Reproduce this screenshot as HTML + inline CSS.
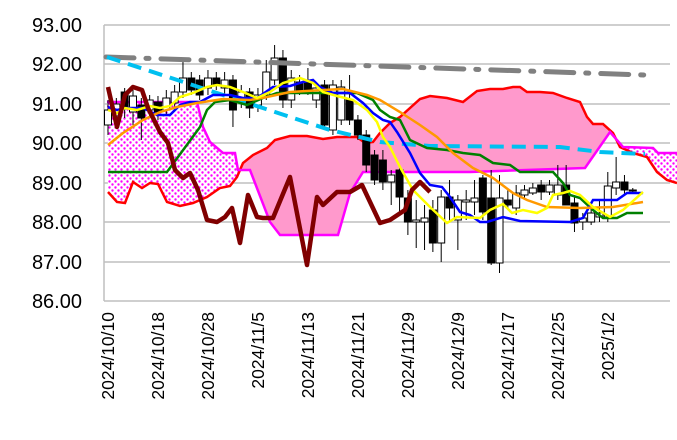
<!DOCTYPE html>
<html><head><meta charset="utf-8"><style>
html,body{margin:0;padding:0;background:#fff;}
svg{display:block;font-family:"Liberation Sans",sans-serif;}
</style></head><body>
<svg id="c" width="677" height="440" xmlns="http://www.w3.org/2000/svg">
<defs>
<pattern id="dots" width="6" height="6" patternUnits="userSpaceOnUse">
<rect width="6" height="6" fill="#fff"/>
<circle cx="1.5" cy="1.5" r="1.2" fill="#f0f"/><circle cx="4.5" cy="4.5" r="1.2" fill="#f0f"/>
</pattern>
<clipPath id="mid"><rect x="240" y="0" width="371" height="300"/></clipPath>
</defs>
<g stroke="#bfbfbf" stroke-width="1.5">
<line x1="104" y1="25" x2="670" y2="25"/><line x1="104" y1="64" x2="670" y2="64"/>
<line x1="104" y1="104" x2="670" y2="104"/><line x1="104" y1="143" x2="670" y2="143"/>
<line x1="104" y1="183" x2="670" y2="183"/><line x1="104" y1="222" x2="670" y2="222"/>
<line x1="104" y1="262" x2="670" y2="262"/><line x1="104" y1="301" x2="670" y2="301"/>
<line x1="104" y1="25" x2="104" y2="301"/>
</g>
<g font-size="20" fill="#000" text-anchor="end">
<text x="82" y="32">93.00</text><text x="82" y="71">92.00</text><text x="82" y="111">91.00</text>
<text x="82" y="150">90.00</text><text x="82" y="190">89.00</text><text x="82" y="229">88.00</text>
<text x="82" y="269">87.00</text><text x="82" y="308">86.00</text>
</g>
<g id="xl" font-size="17.5" fill="#000" text-anchor="end"></g>
<g id="kumo">
<polygon id="k1" fill="url(#dots)" points=""/>
<polygon id="k2" fill="#ff99cc" clip-path="url(#mid)" points=""/>
</g>
<polyline id="spanB" fill="none" stroke="#ff0000" stroke-width="2.5" points="108,192 117,202 125,203 133,182 142,188 150,183 158,184 167,202 180,206 193,203 207,197 220,188 230,186 237,177 243,163 253,155 267,148 275,140 290,136 307,136 323,139 337,137 357,137 365,143 373,142 380,133 390,123 400,117 420,99 430,96 447,98 463,102 477,91 490,89 503,89 513,87 520,87 527,92 540,92 553,93 567,98 580,102 587,117 593,124 603,124 613,133 620,147 633,153 647,157 657,172 667,180 677,183"/>
<polyline id="spanA" fill="none" stroke="#ff00ff" stroke-width="2.5" points="107,102 197,102 203,127 210,142 223,153 235,153 238,170 250,170 270,222 280,235 338,235 350,193 363,172 390,172 470,172 585,168 610,132 623,147 653,148 658,153 677,153"/>
<g id="cand"></g>
<polyline fill="none" stroke="#808080" stroke-width="5" stroke-dasharray="28,12,3,12" stroke-linecap="round" points="106,57 645,75"/>
<polyline fill="none" stroke="#00c0f0" stroke-width="4" stroke-dasharray="14,8" points="107,57 330,130 380,142 430,146 560,147 600,152 645,154"/>
<polyline fill="none" stroke="#008000" stroke-width="2.5" points="108,172 167,172 200,127 207,110 215,102 230,100 247,105 263,98 277,93 357,93 373,100 380,110 390,117 400,120 410,140 427,148 447,150 463,153 480,155 493,163 510,165 520,172 553,172 563,183 570,195 580,198 593,210 603,218 617,218 627,213 643,213"/>
<polyline fill="none" stroke="#0000ff" stroke-width="2.5" points="108,107 117,110 127,108 143,108 157,115 170,115 180,105 190,102 200,102 213,95 230,95 243,98 257,98 273,87 290,86 303,82 313,80 320,87 333,93 350,93 363,103 373,113 383,120 390,122 397,132 410,153 420,173 430,185 442,187 450,197 460,212 470,215 480,222 487,222 503,217 520,221 570,222 583,218 593,200 617,200 627,193 643,193"/>
<polyline fill="none" stroke="#ff9900" stroke-width="2.5" points="108,145 123,133 143,120 160,112 177,107 197,103 223,99 250,100 267,97 290,92 323,90 343,89 367,95 380,100 400,112 420,125 437,137 453,153 473,168 493,178 513,193 527,200 547,207 580,208 613,207 643,202"/>
<polyline fill="none" stroke="#ffff00" stroke-width="2.5" points="108,110 117,113 125,108 137,110 150,106 160,108 170,106 180,97 193,93 207,87 217,85 230,87 243,92 257,98 270,92 283,83 300,78 313,83 323,92 337,96 353,100 367,110 377,122 383,137 390,147 400,167 413,190 430,207 447,223 457,217 480,218 490,210 503,204 512,213 523,210 537,213 547,208 553,195 563,193 570,191 580,195 593,207 610,217 623,210 643,192"/>
<polyline fill="none" stroke="#800000" stroke-width="4.5" stroke-linejoin="round" points="108,87 117,127 125,95 133,87 142,90 148,108 160,132 168,143 175,170 183,178 190,173 198,190 207,220 217,222 225,217 232,208 240,243 248,195 257,217 263,218 273,218 290,177 307,265 317,197 323,205 337,192 350,192 362,185 380,223 390,220 405,210 412,190 420,182 430,192"/>
</svg>
<script>
(function(){
function pts(id){return document.getElementById(id).getAttribute('points').trim().split(/\s+/);}
var b=pts('spanB'),a=pts('spanA');
var poly=b.concat(a.slice().reverse()).join(' ');
document.getElementById('k1').setAttribute('points',poly);
document.getElementById('k2').setAttribute('points',poly);
var C=[[110,125,0,100,135],[104,116,0,98,122],[92,108,1,88,118],[96,112,0,90,125],[105,118,1,98,140],[100,110,0,95,118],[102,112,1,96,120],[98,110,0,90,115],[92,103,0,85,110],[78,92,0,62,98],[78,90,1,72,95],[80,95,1,75,100],[78,88,0,70,95],[78,85,1,72,90],[80,88,0,72,95],[80,110,1,75,127],[92,100,0,85,108],[92,108,1,88,118],[95,105,0,88,112],[72,95,0,60,100],[58,80,0,45,85],[58,100,1,50,108],[78,100,0,70,108],[82,90,1,75,95],[80,90,1,68,95],[88,100,0,85,108],[85,125,1,80,130],[85,130,0,80,135],[87,120,0,80,125],[100,120,1,75,125],[120,135,1,115,140],[135,165,1,130,172],[155,180,1,150,185],[160,182,1,150,190],[175,182,0,170,205],[170,197,1,165,215],[198,222,1,190,235],[220,222,0,200,248],[218,222,0,205,250],[210,243,1,200,252],[197,243,0,190,262],[197,208,1,180,222],[200,220,0,195,250],[200,202,0,190,220],[198,202,0,180,215],[178,212,1,175,220],[198,263,1,170,265],[198,263,0,175,273],[200,205,1,190,210],[193,208,0,185,215],[190,195,0,185,200],[188,193,0,183,195],[185,192,1,180,200],[185,192,0,180,195],[185,195,0,165,200],[185,205,1,165,205],[203,223,1,195,232],[218,222,0,213,230],[213,222,0,205,225],[213,217,0,200,222],[186,217,0,172,222],[182,188,0,157,195],[182,190,1,175,195],[190,191,1,188,193]];
var g=document.getElementById('cand'),h='';
C.forEach(function(c,i){var x=108+8.33*i;
h+='<line x1="'+x+'" y1="'+c[3]+'" x2="'+x+'" y2="'+c[4]+'" stroke="#000" stroke-width="1"/>';
h+='<rect x="'+(x-3.5)+'" y="'+c[0]+'" width="7" height="'+Math.max(1,c[1]-c[0])+'" fill="'+(c[2]?'#000':'#fff')+'" stroke="#000" stroke-width="1"/>';});
g.innerHTML=h;
var L=['2024/10/10','2024/10/18','2024/10/28','2024/11/5','2024/11/13','2024/11/21','2024/11/29','2024/12/9','2024/12/17','2024/12/25','2025/1/2'],s='';
L.forEach(function(t,i){var x=108+50*i;s+='<text transform="translate('+(x+6)+',312) rotate(-90)">'+t+'</text>';});
document.getElementById('xl').innerHTML=s;
})();
</script>
</body></html>
